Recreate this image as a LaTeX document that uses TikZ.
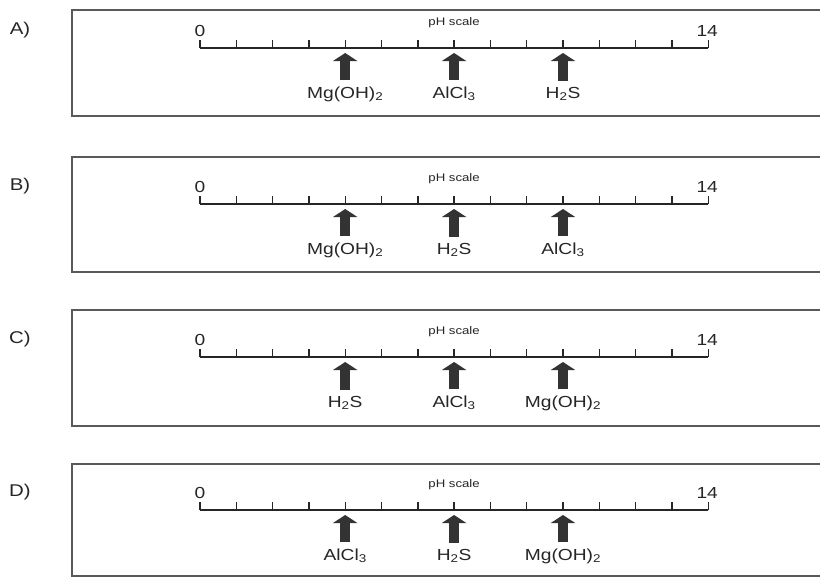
\documentclass[tikz,border=0pt]{standalone}
\usepackage{fontspec}
\setmainfont{Liberation Sans}[FakeStretch=1.2]
\usetikzlibrary{arrows.meta}

\begin{document}
\begin{tikzpicture}[x=1pt,y=-1pt,
    panel/.style={draw=black!65,line width=1.1pt},
    phline/.style={draw=black!85,line width=1.4pt},
    chem/.style={font=\fontsize{16}{19}\selectfont,inner sep=1pt,anchor=base,text=black!85},
    ends/.style={font=\fontsize{16}{19}\selectfont,inner sep=0pt,text=black!85},
    pharrow/.style={draw=black!80,line width=10pt,-{Triangle[width=24pt,length=8pt]}}]
  \useasboundingbox[fill=white] (0,0) rectangle (820,584);
  \foreach \opt/\ya/\yt/\yb/\p/\q/\r in {
      A/48/10/116/{Mg(OH)\textsubscript{2}}/{AlCl\textsubscript{3}}/{H\textsubscript{2}S},
      B/204/157/272/{Mg(OH)\textsubscript{2}}/{H\textsubscript{2}S}/{AlCl\textsubscript{3}},
      C/357/310/426/{H\textsubscript{2}S}/{AlCl\textsubscript{3}}/{Mg(OH)\textsubscript{2}},
      D/510/464/576/{AlCl\textsubscript{3}}/{H\textsubscript{2}S}/{Mg(OH)\textsubscript{2}}}
  {
    \node[font=\fontsize{17}{20}\selectfont,text=black!85] (\opt-name) at (20,\ya-18) {\opt)};
    \draw[panel] (72,\yt) rectangle (824,\yb);
    \foreach \i in {0,...,14}
      \coordinate (\opt-t\i) at (200+36.3*\i,\ya);
    \draw[phline] (\opt-t0) -- (\opt-t14);
    \foreach \i in {0,...,14}
      \draw[phline] (\opt-t\i) -- ++(0,-8);
    \node[ends] (\opt-zero) at ([yshift=17pt]\opt-t0) {0};
    \node[ends] (\opt-top) at ([yshift=17pt,xshift=-1pt]\opt-t14) {14};
    \node[font=\fontsize{11}{13}\selectfont,text=black!85] (\opt-ph) at ([yshift=25pt]\opt-t7) {pH scale};
    \node[chem] (\opt-one) at ([yshift=-50pt]\opt-t4) {\p};
    \node[chem] (\opt-two) at ([yshift=-50pt]\opt-t7) {\q};
    \node[chem] (\opt-three) at ([yshift=-50pt]\opt-t10) {\r};
    \draw[pharrow] ([yshift=5pt]\opt-one.north) -- ([yshift=-5pt]\opt-t4);
    \draw[pharrow] ([yshift=5pt]\opt-two.north) -- ([yshift=-5pt]\opt-t7);
    \draw[pharrow] ([yshift=5pt]\opt-three.north) -- ([yshift=-5pt]\opt-t10);
  }
\end{tikzpicture}
\end{document}
